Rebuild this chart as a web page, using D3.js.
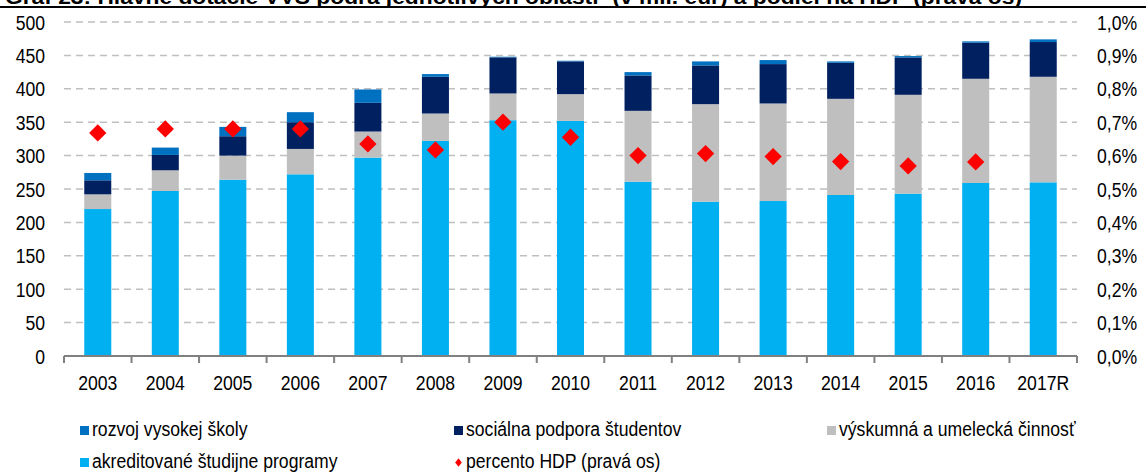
<!DOCTYPE html>
<html>
<head>
<meta charset="utf-8">
<script src="https://cdn.jsdelivr.net/npm/d3@7"></script>
<style>
  html, body { margin: 0; padding: 0; background: #fff; }
  svg text { font-family: "Liberation Sans Narrow", "Arial Narrow", "Liberation Sans", Arial, sans-serif; fill: #000; }
</style>
</head>
<body>
<svg id="chart" width="1146" height="472"></svg>
<script>
const categories = ["2003","2004","2005","2006","2007","2008","2009","2010","2011","2012","2013","2014","2015","2016","2017R"];
const akreditovane = [220, 247, 264, 272, 297, 322, 353, 352, 261, 231, 232, 241, 243, 259, 260];
const vyskumna     = [ 22,  31,  36,  38,  39,  41,  40,  40, 106, 146, 146, 144, 148, 156, 158];
const socialna     = [ 21,  23,  29,  40,  43,  55,  54,  49,  53,  58,  59,  54,  56,  54,  52];
const rozvoj       = [ 11,  11,  14,  15,  20,   4,   1,   1,   5,   6,   6,   2,   2,   2,   4];
const percentoHDP  = [0.668, 0.680, 0.680, 0.680, 0.635, 0.617, 0.700, 0.655, 0.600, 0.606, 0.597, 0.582, 0.569, 0.581, null];
const leftTicks = [0, 50, 100, 150, 200, 250, 300, 350, 400, 450, 500];
const rightTicks = [0, 0.1, 0.2, 0.3, 0.4, 0.5, 0.6, 0.7, 0.8, 0.9, 1.0];
const seriesNames = ["akreditované študijne programy", "výskumná a umelecká činnosť", "sociálna podpora študentov", "rozvoj vysokej školy"];
const lineName = "percento HDP (pravá os)";
const titleText = "Graf 23: Hlavné dotácie VVŠ podľa jednotlivých oblastí¹ (v mil. eur) a podiel na HDP (pravá os)";

const colors = {
  "akreditované študijne programy": "#00B0F0",
  "výskumná a umelecká činnosť": "#BFBFBF",
  "sociálna podpora študentov": "#002060",
  "rozvoj vysokej školy": "#0070C0"
};

const svg = d3.select("#chart");
const plotLeft = 64, plotRight = 1077, plotTop = 22, plotBottom = 356;

const x = d3.scaleBand().domain(categories).range([plotLeft, plotRight]).paddingInner(0.6).paddingOuter(0.3);
const xb = d3.scaleBand().domain(categories).range([plotLeft, plotRight]);
const y = d3.scaleLinear().domain([0, 500]).range([plotBottom, plotTop]);
const y2 = d3.scaleLinear().domain([0, 1.0]).range([plotBottom, plotTop]);

// title (clipped at top, as in the source) and rule
svg.append("text").attr("x", 5).attr("y", 4).attr("font-size", 20).attr("font-weight", "bold")
  .attr("textLength", 1017).attr("lengthAdjust", "spacingAndGlyphs").text(titleText);
svg.append("line").attr("x1", 0).attr("x2", 1146).attr("y1", 7).attr("y2", 7).attr("stroke", "#000").attr("stroke-width", 2);

// gridlines
svg.append("g").selectAll("line").data(leftTicks.filter(d => d > 0)).join("line")
  .attr("x1", plotLeft).attr("x2", plotRight)
  .attr("y1", d => y(d)).attr("y2", d => y(d))
  .attr("stroke", "#BFBFBF").attr("stroke-width", 1.5).attr("stroke-dasharray", "7,5");

// stacked bars
const rows = categories.map((c, i) => ({
  cat: c,
  "akreditované študijne programy": akreditovane[i],
  "výskumná a umelecká činnosť": vyskumna[i],
  "sociálna podpora študentov": socialna[i],
  "rozvoj vysokej školy": rozvoj[i]
}));
const stacked = d3.stack().keys(seriesNames)(rows);
svg.append("g").selectAll("g").data(stacked).join("g")
  .attr("fill", d => colors[d.key])
  .selectAll("rect").data(d => d).join("rect")
  .attr("x", d => x(d.data.cat))
  .attr("width", x.bandwidth())
  .attr("y", d => y(d[1]))
  .attr("height", d => y(d[0]) - y(d[1]));

// x axis
const xAxis = d3.axisBottom(xb).tickSize(0).tickPadding(0).tickFormat(d => d);
const gx = svg.append("g").attr("transform", `translate(0,${plotBottom})`).call(xAxis);
gx.select(".domain").remove();
gx.selectAll("text").attr("font-size", 20).attr("dy", "0").attr("y", 34).attr("fill", "#000");
svg.append("line").attr("x1", plotLeft).attr("x2", plotRight).attr("y1", plotBottom).attr("y2", plotBottom)
  .attr("stroke", "#808080").attr("stroke-width", 2);
const boundaries = categories.map(c => xb(c)).concat([plotRight]);
svg.append("g").selectAll("line").data(boundaries).join("line")
  .attr("x1", d => d).attr("x2", d => d).attr("y1", plotBottom).attr("y2", plotBottom + 7)
  .attr("stroke", "#808080").attr("stroke-width", 2);

// left axis
const yAxis = d3.axisLeft(y).tickValues(leftTicks).tickSize(0).tickPadding(0);
const gy = svg.append("g").attr("transform", `translate(45,0)`).call(yAxis);
gy.select(".domain").remove();
gy.selectAll("text").attr("font-size", 20).attr("fill", "#000").attr("dy", "0.35em");

// right axis
const y2Axis = d3.axisRight(y2).tickValues(rightTicks).tickSize(0).tickPadding(0)
  .tickFormat(d => d.toFixed(1).replace(".", ",") + "%");
const gy2 = svg.append("g").attr("transform", `translate(1097,0)`).call(y2Axis);
gy2.select(".domain").remove();
gy2.selectAll("text").attr("font-size", 20).attr("fill", "#000").attr("dy", "0.35em");

// diamonds
const diamond = d3.symbol().type(d3.symbolSquare).size(150);
svg.append("g").selectAll("path")
  .data(categories.map((c, i) => ({cat: c, v: percentoHDP[i]})).filter(d => d.v !== null))
  .join("path")
  .attr("d", diamond)
  .attr("transform", d => `translate(${xb(d.cat) + xb.bandwidth()/2},${y2(d.v)}) rotate(45)`)
  .attr("fill", "#FF0000");

// legend
const legendItems = [
  {name: "rozvoj vysokej školy", x: 80, y: 430, type: "rect"},
  {name: "sociálna podpora študentov", x: 454, y: 430, type: "rect"},
  {name: "výskumná a umelecká činnosť", x: 827, y: 430, type: "rect"},
  {name: "akreditované študijne programy", x: 80, y: 462, type: "rect"},
  {name: lineName, x: 454, y: 462, type: "diamond"}
];
const lg = svg.append("g").selectAll("g").data(legendItems).join("g")
  .attr("transform", d => `translate(${d.x},${d.y})`);
lg.each(function(d) {
  const g = d3.select(this);
  if (d.type === "rect") {
    g.append("rect").attr("x", 0).attr("y", -4).attr("width", 9).attr("height", 9).attr("fill", colors[d.name]);
  } else {
    g.append("path").attr("d", d3.symbol().type(d3.symbolSquare).size(30)).attr("transform", "translate(4.5,0.5) scale(0.85,1.1) rotate(45)").attr("fill", "#FF0000");
  }
  g.append("text").attr("x", 12).attr("y", 0).attr("dy", "0.3em").attr("font-size", 20).text(d.name);
});

// condense all non-title texts to mimic the narrow face of the source
svg.selectAll("text").filter(function() { return this.textContent !== titleText; })
  .each(function() {
    const len = this.getComputedTextLength();
    d3.select(this).attr("textLength", len * 0.88).attr("lengthAdjust", "spacingAndGlyphs");
  });
</script>
</body>
</html>
